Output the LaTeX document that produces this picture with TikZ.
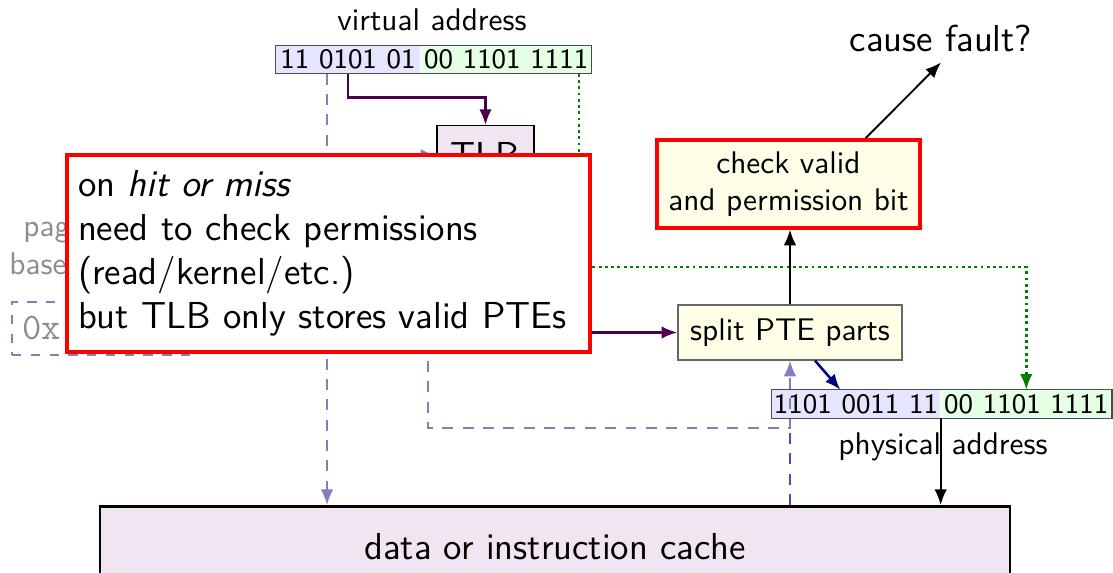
\documentclass[tikz,border=0pt]{standalone}
\usepackage{tikz}
\usetikzlibrary{positioning,calc,arrows.meta}
\renewcommand{\familydefault}{\sfdefault}

\begin{document}
\begin{tikzpicture}[x=0.3195pt, y=-0.3195pt,
	>={Latex[length=5pt,width=4pt]},
	bits/.style={font=\small, inner sep=0pt, minimum height=8.7pt},
	hibits/.style={bits, fill=blue!10},
	lobits/.style={bits, fill=green!10},
	hwbox/.style={draw=black!60, fill=yellow!10, align=center},
	hilite/.style={draw=red, very thick},
	idxline/.style={violet!60!black, thick, ->},
	ptline/.style={blue!50!black!50, semithick, dash pattern=on 3.5pt off 3pt},
	ptdark/.style={blue!60!black!70, semithick, dash pattern=on 3.5pt off 3pt},
	offline/.style={green!50!black, thick, dash pattern=on 0.9pt off 1.1pt, ->}]
	\useasboundingbox (0,0) rectangle (1113,573);
	\node (vlabel) at (432,20) {virtual address};
	\node[hibits, minimum width=46pt] (vhi) at (348,59.5) {11 0101 01};
	\node[lobits, minimum width=54.3pt, right=0pt of vhi] (vlo) {00 1101 1111};
	\draw[black!70] (vhi.north west) rectangle (vlo.south east);
	\node[draw, fill=violet!10, font=\large, minimum width=31pt, minimum height=19pt, anchor=north] (tlb) at (485.5,125) {TLB};
	\node[text=black!45, align=center] (ptbrlabel) at (91,248) {page table\\base register};
	\node[draw=blue!50!black!50, dashed, thick, text=black!45, font=\large\ttfamily, text width=52pt, inner sep=3.25pt, minimum height=16.9pt] (ptbr) at (103.5,328.5) {0x};
	\node[draw=black, thick, fill=violet!10, font=\large, minimum width=290.7pt, minimum height=25.5pt, anchor=north] (cache) at (555,505) {data or instruction cache};
	\node[hwbox, minimum width=71.6pt, minimum height=17.6pt] (split) at (790,332.5) {split PTE parts};
	\node[hwbox, hilite, minimum width=84pt, minimum height=28pt] (check) at (788.5,184) {check valid\\and permission bit};
	\node[font=\large] (fault) at (941,38) {cause fault?};
	\node[hibits, minimum width=53.7pt] (phi) at (856,404) {1101 0011 11};
	\node[lobits, minimum width=54.3pt, right=0pt of phi] (plo) {00 1101 1111};
	\draw[black!70] (phi.north west) rectangle (plo.south east);
	\node (plabel) at (943,447) {physical address};

	\coordinate (vset) at ([xshift=-6.7pt]vhi.south);
	\coordinate (voff) at ([xshift=23.3pt]vlo.south);
	\coordinate (offturn) at (plo.north |- 0,267);
	\coordinate (pteout) at (428,300);
	\coordinate (pteturn) at (split.south |- 0,428);
	\draw[idxline] (vhi.south) -- ++(0,24) -| (tlb.north);
	\draw[ptline, ->] (vset) -- (vset |- cache.north);
	\draw[ptline, ->] (ptbr.north) |- (tlb.west);
	\draw[idxline] (tlb.south) |- (split.west);
	\draw[offline] (voff) |- (offturn) -- (plo.north);
	\draw[ptdark] (cache.north -| pteturn) -- (pteturn);
	\draw[ptline, ->] (pteout) |- (pteturn) -- (split.south);
	\draw[blue!50!black, thick, ->] ([xshift=8pt]split.south) -- ([xshift=-5pt]phi.north);
	\draw[semithick, ->] (split.north) -- (split.north |- check.south);
	\draw[semithick, ->] ([xshift=24.6pt]check.north) -- (fault.south);
	\draw[semithick, ->] (phi.south east) -- (phi.south east |- cache.north);

	\node[hilite, fill=white, font=\large, align=left, text width=160pt, inner xsep=3.5pt, minimum height=63pt] (note) at (328.5,253.5) {on \emph{hit or miss}\\need to check permissions\\(read/kernel/etc.)\\but TLB only stores valid PTEs};
\end{tikzpicture}
\end{document}
